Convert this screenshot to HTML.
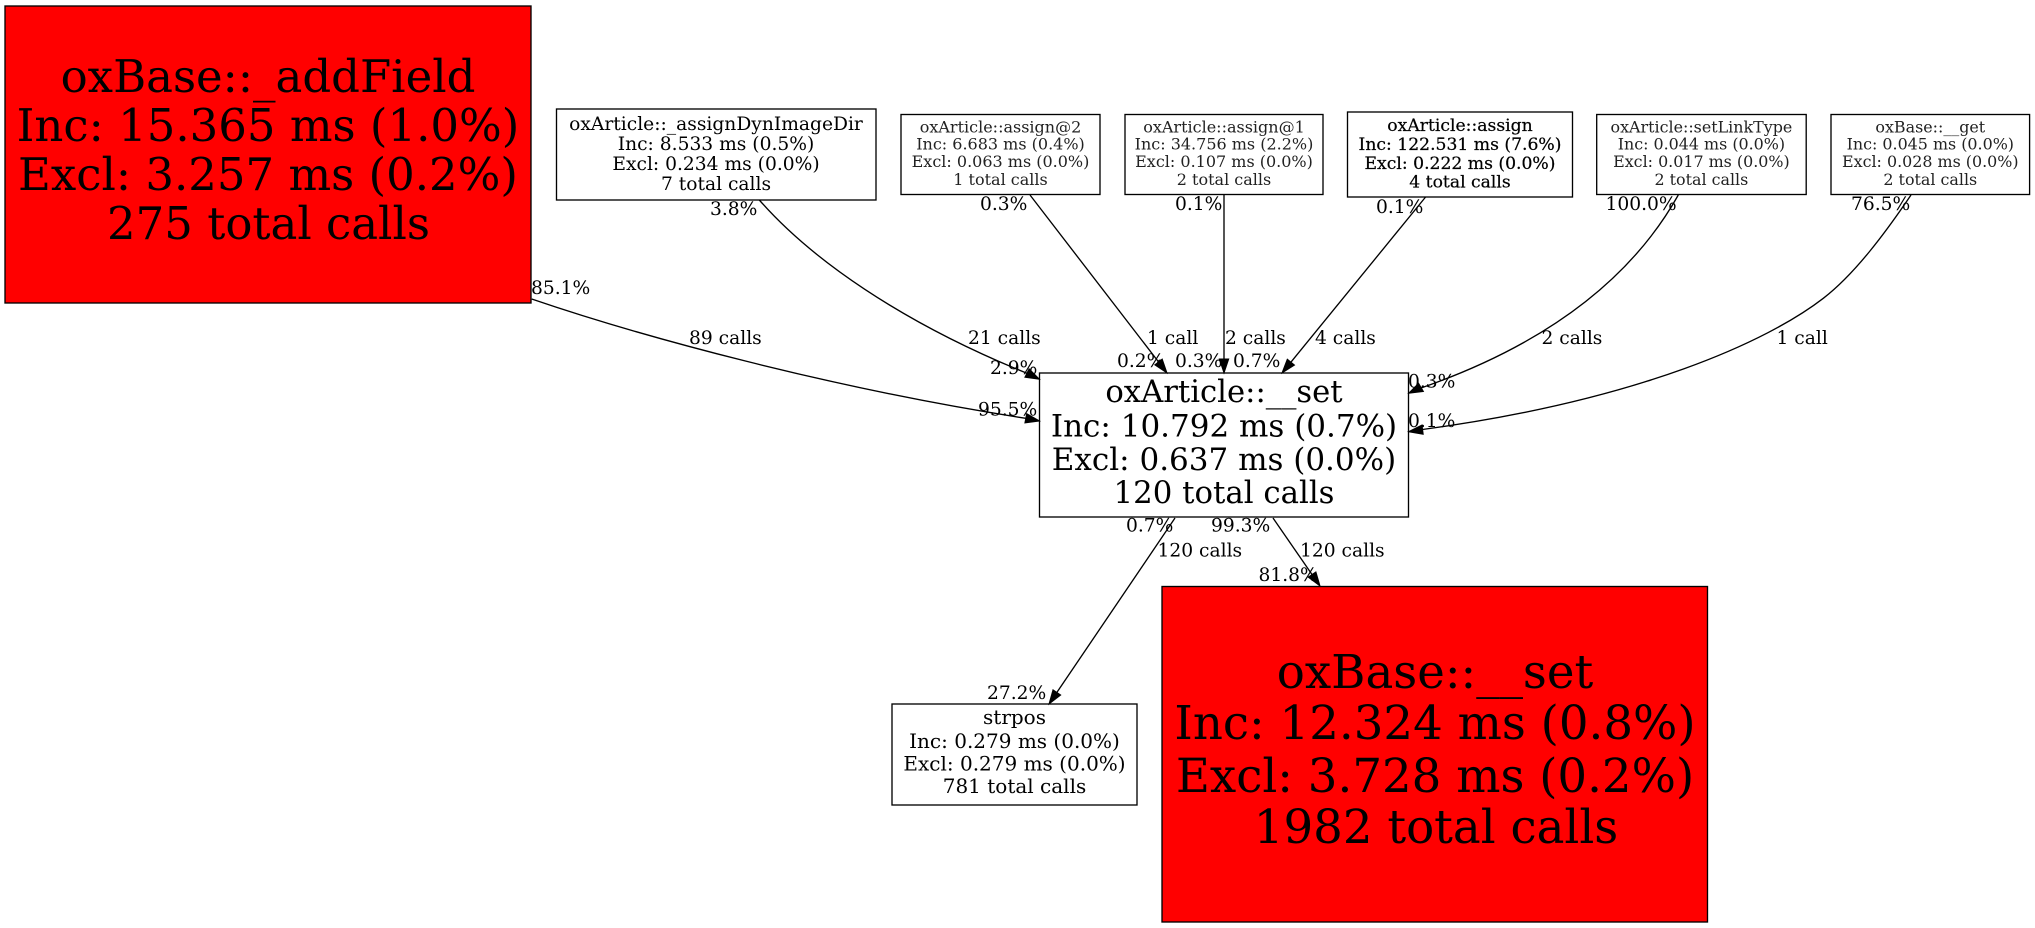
<!DOCTYPE html>
<html>
<head>
<meta charset="utf-8">
<style>
html,body{margin:0;padding:0;background:#fff;}
svg{display:block;}
text{font-family:"DejaVu Serif",serif;fill:#000;white-space:pre;}
.n{text-anchor:middle;}
.e{font-size:18.67px;}
.b{fill:#fff;stroke:#000;stroke-width:1.33;}
.r{fill:#f00;stroke:#000;stroke-width:1.33;}
.l{fill:none;stroke:#000;stroke-width:1.33;}
.a{fill:#000;stroke:#000;stroke-width:1;}
.thin text{fill:#222;}
.bold text{stroke:#000;stroke-width:.22;}
</style>
</head>
<body>
<svg width="2035" height="928" viewBox="0 0 2035 928" xmlns="http://www.w3.org/2000/svg">
<rect width="2035" height="928" fill="#fff"/>

<!-- nodes -->
<rect class="r" x="5" y="6" width="526" height="297"/>
<g font-size="45">
<text class="n" x="268" y="92">oxBase::_addField</text>
<text class="n" x="268" y="141">Inc: 15.365 ms (1.0%)</text>
<text class="n" x="268" y="190">Excl: 3.257 ms (0.2%)</text>
<text class="n" x="268.5" y="239">275 total calls</text>
</g>

<rect class="b" x="556.5" y="109" width="319.5" height="91"/>
<g font-size="18.67">
<text class="n" x="716" y="130">oxArticle::_assignDynImageDir</text>
<text class="n" x="716" y="150">Inc: 8.533 ms (0.5%)</text>
<text class="n" x="716" y="170">Excl: 0.234 ms (0.0%)</text>
<text class="n" x="716" y="190">7 total calls</text>
</g>

<rect class="b" x="901" y="114.5" width="199" height="80"/>
<g font-size="16" class="thin">
<text class="n" x="1000.5" y="132.5">oxArticle::assign@2</text>
<text class="n" x="1000.5" y="149.5">Inc: 6.683 ms (0.4%)</text>
<text class="n" x="1000.5" y="167">Excl: 0.063 ms (0.0%)</text>
<text class="n" x="1000.5" y="185">1 total calls</text>
</g>

<rect class="b" x="1125" y="114.5" width="198" height="80"/>
<g font-size="16" class="thin">
<text class="n" x="1224" y="132.5">oxArticle::assign@1</text>
<text class="n" x="1224" y="149.5">Inc: 34.756 ms (2.2%)</text>
<text class="n" x="1224" y="167">Excl: 0.107 ms (0.0%)</text>
<text class="n" x="1224" y="185">2 total calls</text>
</g>

<rect class="b" x="1347.5" y="112" width="225" height="85"/>
<g font-size="17.2" class="bold">
<text class="n" x="1460" y="131">oxArticle::assign</text>
<text class="n" x="1460" y="150">Inc: 122.531 ms (7.6%)</text>
<text class="n" x="1460" y="169">Excl: 0.222 ms (0.0%)</text>
<text class="n" x="1460" y="187.3">4 total calls</text>
</g>

<rect class="b" x="1596.7" y="114.5" width="209.5" height="80"/>
<g font-size="15.9" class="thin">
<text class="n" x="1701.4" y="132.5">oxArticle::setLinkType</text>
<text class="n" x="1701.4" y="149.5">Inc: 0.044 ms (0.0%)</text>
<text class="n" x="1701.4" y="167">Excl: 0.017 ms (0.0%)</text>
<text class="n" x="1701.4" y="185">2 total calls</text>
</g>

<rect class="b" x="1831" y="114.5" width="198.6" height="80"/>
<g font-size="15.9" class="thin">
<text class="n" x="1930.3" y="132.5">oxBase::__get</text>
<text class="n" x="1930.3" y="149.5">Inc: 0.045 ms (0.0%)</text>
<text class="n" x="1930.3" y="167">Excl: 0.028 ms (0.0%)</text>
<text class="n" x="1930.3" y="185">2 total calls</text>
</g>

<rect class="b" x="1039.5" y="373" width="369" height="144"/>
<g>
<text class="n" font-size="30.67" x="1224" y="402">oxArticle::__set</text>
<text class="n" font-size="31" x="1224" y="436.5">Inc: 10.792 ms (0.7%)</text>
<text class="n" font-size="31" x="1224" y="470">Excl: 0.637 ms (0.0%)</text>
<text class="n" font-size="30.8" x="1224" y="503">120 total calls</text>
</g>

<rect class="b" x="892" y="704" width="245" height="101"/>
<g font-size="20">
<text class="n" x="1014.5" y="724">strpos</text>
<text class="n" x="1014.5" y="748">Inc: 0.279 ms (0.0%)</text>
<text class="n" x="1014.5" y="770.5">Excl: 0.279 ms (0.0%)</text>
<text class="n" x="1014.5" y="793">781 total calls</text>
</g>

<rect class="r" x="1162" y="586.5" width="545.5" height="335.5"/>
<g font-size="46.67">
<text class="n" x="1435" y="688">oxBase::__set</text>
<text class="n" x="1435" y="739">Inc: 12.324 ms (0.8%)</text>
<text class="n" x="1435" y="792">Excl: 3.728 ms (0.2%)</text>
<text class="n" x="1436" y="843">1982 total calls</text>
</g>

<!-- edges -->
<path class="l" d="M531.7 299 C640 336 830 388 1025.8 418.3"/>
<polygon class="a" points="1039.5,421 1024.9,422.9 1026.7,413.7"/>

<path class="l" d="M759.3 200 C810 258 900 322 1027.5 373.5"/>
<polygon class="a" points="1039.5,379.3 1024.9,377.2 1029.1,368.8"/>

<path class="l" d="M1030 195 L1158.5 361.9"/>
<polygon class="a" points="1167,373 1154.8,364.8 1162.2,359.1"/>

<path class="l" d="M1224 195 L1224 359"/>
<polygon class="a" points="1224,373 1219.3,359 1228.7,359"/>

<path class="l" d="M1425.6 197 L1290.9 362.2"/>
<polygon class="a" points="1282,373 1294.5,365.1 1287.3,359.2"/>

<path class="l" d="M1678.3 195 C1625 290 1530 350 1421 388"/>
<polygon class="a" points="1408.6,393.3 1423.4,391.5 1418.6,383.3"/>

<path class="l" d="M1911 195 C1886 232 1855 273.9 1823.3 298.3 C1768 341 1640 400 1422.5 429.5"/>
<polygon class="a" points="1408.6,431.7 1423.2,434.3 1422,425"/>

<path class="l" d="M1175 518 L1056.9 692.4"/>
<polygon class="a" points="1049,704 1060.7,695 1053,689.8"/>

<path class="l" d="M1273 518 L1312 574.5"/>
<polygon class="a" points="1320,586 1308.2,577.2 1315.9,571.9"/>

<!-- edge labels -->
<g class="e">
<text x="531" y="294">85.1%</text>
<text x="710" y="215">3.8%</text>
<text x="980" y="210">0.3%</text>
<text x="1175" y="210">0.1%</text>
<text x="1376" y="213">0.1%</text>
<text x="1605.5" y="210">100.0%</text>
<text x="1851" y="210">76.5%</text>
<text x="689" y="344">89 calls</text>
<text x="968" y="344">21 calls</text>
<text x="1147" y="344">1 call</text>
<text x="1225" y="344">2 calls</text>
<text x="1315" y="344">4 calls</text>
<text x="1541.5" y="344">2 calls</text>
<text x="1776.5" y="344">1 call</text>
<text x="990" y="374">2.9%</text>
<text x="1117" y="367">0.2%</text>
<text x="1175" y="367">0.3%</text>
<text x="1233" y="367">0.7%</text>
<text x="978" y="415.5">95.5%</text>
<text x="1408" y="387.5">0.3%</text>
<text x="1408" y="427">0.1%</text>
<text x="1126" y="531.5">0.7%</text>
<text x="1211" y="531.5">99.3%</text>
<text x="1157.5" y="556.5">120 calls</text>
<text x="1300" y="556.5">120 calls</text>
<text x="1258.5" y="581">81.8%</text>
<text x="987" y="699">27.2%</text>
</g>
</svg>
</body>
</html>
